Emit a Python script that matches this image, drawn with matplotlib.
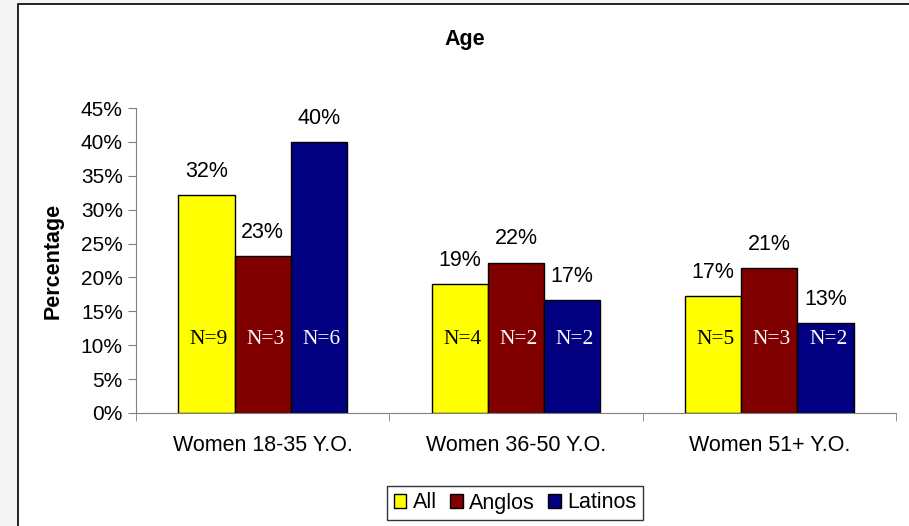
import matplotlib
matplotlib.use('Agg')
import matplotlib.pyplot as plt
import numpy as np
from matplotlib.patches import Rectangle

categories = ['Women 18-35 Y.O.', 'Women 36-50 Y.O.', 'Women 51+ Y.O.']
series = ['All', 'Anglos', 'Latinos']
all_vals = [32.1, 19.0, 17.2]
anglo_vals = [23.1, 22.2, 21.4]
latino_vals = [40.0, 16.7, 13.3]
all_n = ['N=9', 'N=4', 'N=5']
anglo_n = ['N=3', 'N=2', 'N=3']
latino_n = ['N=6', 'N=2', 'N=2']

plt.rcParams['font.family'] = ['Liberation Sans', 'DejaVu Sans']
fs = 15.5

fig = plt.figure(figsize=(9.09, 5.26), dpi=100)
fig.patch.set_facecolor('#f4f4f4')
# chart area frame
fig.patches.append(Rectangle((18 / 909, -0.1), 1.1, 1.1 - 4 / 526, transform=fig.transFigure,
                             facecolor='white', edgecolor='black', linewidth=1.2, zorder=-1))

ax = fig.add_axes([136 / 909, 1 - 413 / 526, 760 / 909, (413 - 108) / 526])
ax.set_facecolor('none')

x = np.arange(len(categories))
width = 1 / 4.5
colors = ['#FFFF00', '#800000', '#000080']
vals = [all_vals, anglo_vals, latino_vals]
nlabs = [all_n, anglo_n, latino_n]
txtcol = ['black', 'white', 'white']

for i in range(3):
    pos = x + (i - 1) * width
    ax.bar(pos, vals[i], width, color=colors[i], edgecolor='black', linewidth=1.0,
           label=series[i], zorder=2)
    for p, v, n in zip(pos, vals[i], nlabs[i]):
        ax.text(p, v + 3.5, '%d%%' % round(v), ha='center', va='center', fontsize=fs)
        ax.text(p + 0.01, 10.8, n, ha='center', va='center', fontsize=fs,
                family='Liberation Serif', color=txtcol[i], zorder=3)

ax.set_xlim(-0.5, 2.5)
ax.set_ylim(0, 45)
ax.set_yticks(np.arange(0, 46, 5))
ax.set_yticklabels(['%d%%' % t for t in range(0, 46, 5)], fontsize=15)
ax.set_xticks(x)
ax.set_xticklabels(categories, fontsize=fs)
ax.set_xticks([-0.5, 0.5, 1.5, 2.5], minor=True)
ax.tick_params(axis='x', which='major', length=0, pad=16)
ax.tick_params(axis='x', which='minor', length=6, color='#808080', direction='out')
ax.tick_params(axis='y', length=6, color='#808080', pad=3.5)

for s in ['top', 'right']:
    ax.spines[s].set_visible(False)
ax.spines['left'].set_color('#808080')
ax.spines['bottom'].set_color('#808080')

ax.set_ylabel('Percentage', fontsize=fs, fontweight='bold')
ax.yaxis.set_label_coords(-(136 - 64) / 760, 0.5)
fig.text(465 / 909, 1 - 40 / 526, 'Age', ha='center', va='center', fontsize=15.5, fontweight='bold')

leg = fig.legend(loc='center', bbox_to_anchor=(515 / 909, 1 - 503 / 526), ncol=3, fontsize=fs,
                 frameon=True, fancybox=False, handlelength=0.6, handleheight=0.6,
                 handletextpad=0.3, columnspacing=0.6, borderpad=0.3)
leg.get_frame().set_edgecolor('black')
leg.get_frame().set_linewidth(1.0)

plt.savefig('out.png', dpi=100)
